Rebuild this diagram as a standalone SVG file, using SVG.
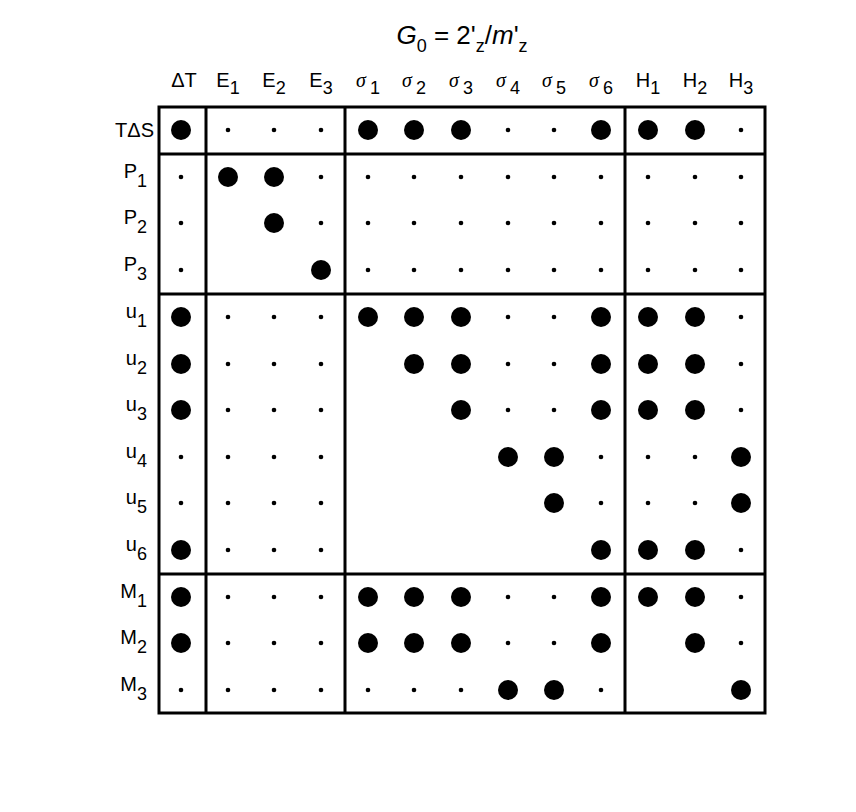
<svg xmlns="http://www.w3.org/2000/svg" width="856" height="812" viewBox="0 0 856 812">
<style>
text{font-family:"Liberation Sans",Arial,sans-serif;font-size:20px;fill:#000}
.s{font-family:"Liberation Serif",serif;font-style:italic}
.b{fill:#000}
.ln{stroke:#000;stroke-width:3;fill:none}
</style>
<defs>
<circle id="B" r="10" class="b"/>
<circle id="d" r="2.3" class="b"/>
</defs>
<rect width="856" height="812" fill="#fff"/>
<g id="title"><text x="462" y="44" text-anchor="middle" font-size="26" style="font-size:26px"><tspan font-style="italic">G</tspan><tspan dy="8" style="font-size:18px">0</tspan><tspan dy="-8"> = 2'</tspan><tspan dy="8" style="font-size:18px">z</tspan><tspan dy="-8">/</tspan><tspan font-style="italic">m</tspan><tspan>'</tspan><tspan dy="8" style="font-size:18px">z</tspan></text></g>
<g id="colheaders" text-anchor="middle">
<text x="184" y="87">ΔT</text>
<text x="228" y="87">E<tspan dy="7" style="font-size:18px">1</tspan></text>
<text x="274" y="87">E<tspan dy="7" style="font-size:18px">2</tspan></text>
<text x="321" y="87">E<tspan dy="7" style="font-size:18px">3</tspan></text>
<text x="368" y="87"><tspan class="s">σ</tspan><tspan dx="4" dy="7" style="font-size:18px">1</tspan></text>
<text x="414" y="87"><tspan class="s">σ</tspan><tspan dx="4" dy="7" style="font-size:18px">2</tspan></text>
<text x="461" y="87"><tspan class="s">σ</tspan><tspan dx="4" dy="7" style="font-size:18px">3</tspan></text>
<text x="508" y="87"><tspan class="s">σ</tspan><tspan dx="4" dy="7" style="font-size:18px">4</tspan></text>
<text x="554" y="87"><tspan class="s">σ</tspan><tspan dx="4" dy="7" style="font-size:18px">5</tspan></text>
<text x="601" y="87"><tspan class="s">σ</tspan><tspan dx="4" dy="7" style="font-size:18px">6</tspan></text>
<text x="648" y="87">H<tspan dy="7" style="font-size:18px">1</tspan></text>
<text x="695" y="87">H<tspan dy="7" style="font-size:18px">2</tspan></text>
<text x="741" y="87">H<tspan dy="7" style="font-size:18px">3</tspan></text>
</g>
<g id="rowheaders" text-anchor="end">
<text x="154" y="137">TΔS</text>
<text x="147" y="178">P<tspan dy="9" style="font-size:18px">1</tspan></text>
<text x="147" y="224">P<tspan dy="9" style="font-size:18px">2</tspan></text>
<text x="147" y="271">P<tspan dy="9" style="font-size:18px">3</tspan></text>
<text x="147" y="318">u<tspan dy="9" style="font-size:18px">1</tspan></text>
<text x="147" y="365">u<tspan dy="9" style="font-size:18px">2</tspan></text>
<text x="147" y="411">u<tspan dy="9" style="font-size:18px">3</tspan></text>
<text x="147" y="458">u<tspan dy="9" style="font-size:18px">4</tspan></text>
<text x="147" y="504">u<tspan dy="9" style="font-size:18px">5</tspan></text>
<text x="147" y="551">u<tspan dy="9" style="font-size:18px">6</tspan></text>
<text x="147" y="598">M<tspan dy="9" style="font-size:18px">1</tspan></text>
<text x="147" y="644">M<tspan dy="9" style="font-size:18px">2</tspan></text>
<text x="147" y="691">M<tspan dy="9" style="font-size:18px">3</tspan></text>
</g>
<g id="grid" class="ln">
<rect x="159" y="107" width="606" height="606"/>
<line x1="206" y1="107" x2="206" y2="713"/>
<line x1="345" y1="107" x2="345" y2="713"/>
<line x1="625" y1="107" x2="625" y2="713"/>
<line x1="159" y1="154" x2="765" y2="154"/>
<line x1="159" y1="294" x2="765" y2="294"/>
<line x1="159" y1="574" x2="765" y2="574"/>
</g>
<g id="cells">
<!-- TΔS y130: B d d d B B B d d B B B d -->
<use href="#B" x="181" y="130"/><use href="#d" x="228" y="130"/><use href="#d" x="274" y="130"/><use href="#d" x="321" y="130"/><use href="#B" x="368" y="130"/><use href="#B" x="414" y="130"/><use href="#B" x="461" y="130"/><use href="#d" x="508" y="130"/><use href="#d" x="554" y="130"/><use href="#B" x="601" y="130"/><use href="#B" x="648" y="130"/><use href="#B" x="695" y="130"/><use href="#d" x="741" y="130"/>
<!-- P1 -->
<use href="#d" x="181" y="177"/><use href="#B" x="228" y="177"/><use href="#B" x="274" y="177"/><use href="#d" x="321" y="177"/><use href="#d" x="368" y="177"/><use href="#d" x="414" y="177"/><use href="#d" x="461" y="177"/><use href="#d" x="508" y="177"/><use href="#d" x="554" y="177"/><use href="#d" x="601" y="177"/><use href="#d" x="648" y="177"/><use href="#d" x="695" y="177"/><use href="#d" x="741" y="177"/>
<!-- P2 -->
<use href="#d" x="181" y="223"/><use href="#B" x="274" y="223"/><use href="#d" x="321" y="223"/><use href="#d" x="368" y="223"/><use href="#d" x="414" y="223"/><use href="#d" x="461" y="223"/><use href="#d" x="508" y="223"/><use href="#d" x="554" y="223"/><use href="#d" x="601" y="223"/><use href="#d" x="648" y="223"/><use href="#d" x="695" y="223"/><use href="#d" x="741" y="223"/>
<!-- P3 -->
<use href="#d" x="181" y="270"/><use href="#B" x="321" y="270"/><use href="#d" x="368" y="270"/><use href="#d" x="414" y="270"/><use href="#d" x="461" y="270"/><use href="#d" x="508" y="270"/><use href="#d" x="554" y="270"/><use href="#d" x="601" y="270"/><use href="#d" x="648" y="270"/><use href="#d" x="695" y="270"/><use href="#d" x="741" y="270"/>
<!-- u1 -->
<use href="#B" x="181" y="317"/><use href="#d" x="228" y="317"/><use href="#d" x="274" y="317"/><use href="#d" x="321" y="317"/><use href="#B" x="368" y="317"/><use href="#B" x="414" y="317"/><use href="#B" x="461" y="317"/><use href="#d" x="508" y="317"/><use href="#d" x="554" y="317"/><use href="#B" x="601" y="317"/><use href="#B" x="648" y="317"/><use href="#B" x="695" y="317"/><use href="#d" x="741" y="317"/>
<!-- u2 -->
<use href="#B" x="181" y="364"/><use href="#d" x="228" y="364"/><use href="#d" x="274" y="364"/><use href="#d" x="321" y="364"/><use href="#B" x="414" y="364"/><use href="#B" x="461" y="364"/><use href="#d" x="508" y="364"/><use href="#d" x="554" y="364"/><use href="#B" x="601" y="364"/><use href="#B" x="648" y="364"/><use href="#B" x="695" y="364"/><use href="#d" x="741" y="364"/>
<!-- u3 -->
<use href="#B" x="181" y="410"/><use href="#d" x="228" y="410"/><use href="#d" x="274" y="410"/><use href="#d" x="321" y="410"/><use href="#B" x="461" y="410"/><use href="#d" x="508" y="410"/><use href="#d" x="554" y="410"/><use href="#B" x="601" y="410"/><use href="#B" x="648" y="410"/><use href="#B" x="695" y="410"/><use href="#d" x="741" y="410"/>
<!-- u4 -->
<use href="#d" x="181" y="457"/><use href="#d" x="228" y="457"/><use href="#d" x="274" y="457"/><use href="#d" x="321" y="457"/><use href="#B" x="508" y="457"/><use href="#B" x="554" y="457"/><use href="#d" x="601" y="457"/><use href="#d" x="648" y="457"/><use href="#d" x="695" y="457"/><use href="#B" x="741" y="457"/>
<!-- u5 -->
<use href="#d" x="181" y="503"/><use href="#d" x="228" y="503"/><use href="#d" x="274" y="503"/><use href="#d" x="321" y="503"/><use href="#B" x="554" y="503"/><use href="#d" x="601" y="503"/><use href="#d" x="648" y="503"/><use href="#d" x="695" y="503"/><use href="#B" x="741" y="503"/>
<!-- u6 -->
<use href="#B" x="181" y="550"/><use href="#d" x="228" y="550"/><use href="#d" x="274" y="550"/><use href="#d" x="321" y="550"/><use href="#B" x="601" y="550"/><use href="#B" x="648" y="550"/><use href="#B" x="695" y="550"/><use href="#d" x="741" y="550"/>
<!-- M1 -->
<use href="#B" x="181" y="597"/><use href="#d" x="228" y="597"/><use href="#d" x="274" y="597"/><use href="#d" x="321" y="597"/><use href="#B" x="368" y="597"/><use href="#B" x="414" y="597"/><use href="#B" x="461" y="597"/><use href="#d" x="508" y="597"/><use href="#d" x="554" y="597"/><use href="#B" x="601" y="597"/><use href="#B" x="648" y="597"/><use href="#B" x="695" y="597"/><use href="#d" x="741" y="597"/>
<!-- M2 -->
<use href="#B" x="181" y="643"/><use href="#d" x="228" y="643"/><use href="#d" x="274" y="643"/><use href="#d" x="321" y="643"/><use href="#B" x="368" y="643"/><use href="#B" x="414" y="643"/><use href="#B" x="461" y="643"/><use href="#d" x="508" y="643"/><use href="#d" x="554" y="643"/><use href="#B" x="601" y="643"/><use href="#B" x="695" y="643"/><use href="#d" x="741" y="643"/>
<!-- M3 -->
<use href="#d" x="181" y="690"/><use href="#d" x="228" y="690"/><use href="#d" x="274" y="690"/><use href="#d" x="321" y="690"/><use href="#d" x="368" y="690"/><use href="#d" x="414" y="690"/><use href="#d" x="461" y="690"/><use href="#B" x="508" y="690"/><use href="#B" x="554" y="690"/><use href="#d" x="601" y="690"/><use href="#B" x="741" y="690"/>
</g>
</svg>
